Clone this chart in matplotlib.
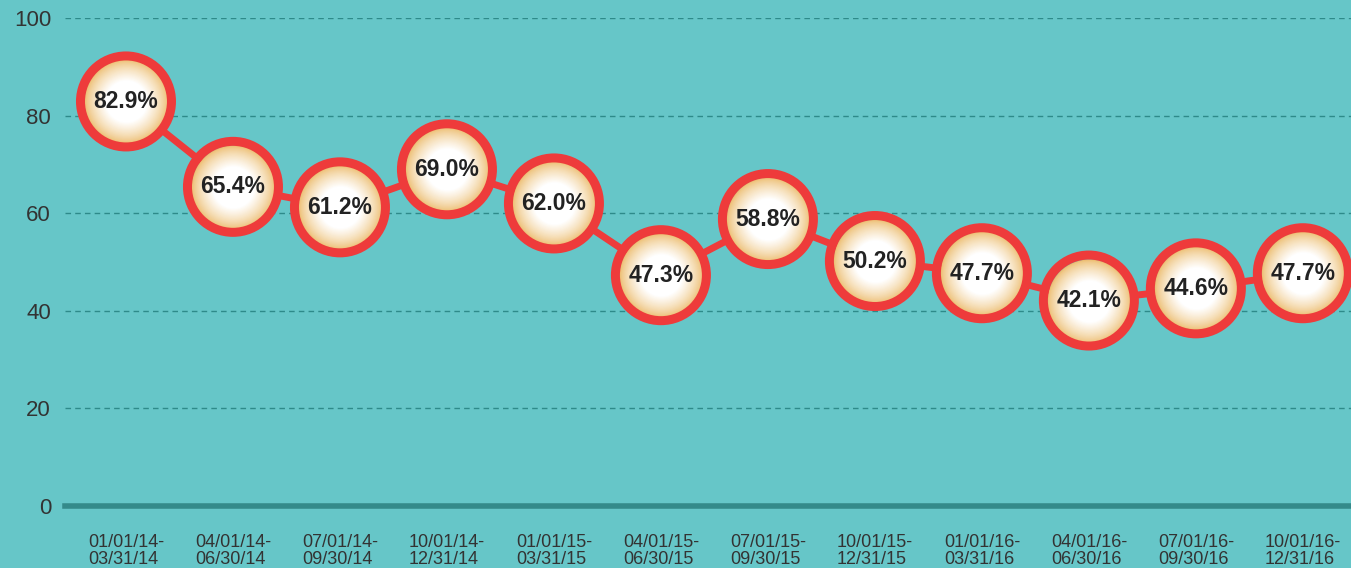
import numpy as np
import matplotlib.pyplot as plt
from matplotlib.colors import to_rgb

# quarterly values
periods = ["01/01/14-\n03/31/14", "04/01/14-\n06/30/14", "07/01/14-\n09/30/14",
           "10/01/14-\n12/31/14", "01/01/15-\n03/31/15", "04/01/15-\n06/30/15",
           "07/01/15-\n09/30/15", "10/01/15-\n12/31/15", "01/01/16-\n03/31/16",
           "04/01/16-\n06/30/16", "07/01/16-\n09/30/16", "10/01/16-\n12/31/16"]
values = [82.9, 65.4, 61.2, 69.0, 62.0, 47.3, 58.8, 50.2, 47.7, 42.1, 44.6, 47.7]
yticks = [0, 20, 40, 60, 80, 100]

bg = "#66C6C8"
red = "#EE3B3B"
grid_col = "#2E8A8A"
txt = "#333333"

plt.rcParams['font.family'] = ['Liberation Sans', 'DejaVu Sans']

fig = plt.figure(figsize=(13.51, 5.68), dpi=100, facecolor=bg)
ax = fig.add_axes([65/1351, 62/568, 1 - 65/1351, 488/568])
ax.set_facecolor(bg)

x = np.arange(len(values))
ax.set_xlim(-0.57, 11.45)
ax.set_ylim(0, 100)

# grid + baseline
for yv in yticks[1:]:
    ax.axhline(yv, color=grid_col, lw=1, ls=(0, (4, 3)), zorder=1)
ax.axhline(0, color="#348A8A", lw=4, zorder=2, clip_on=False)

# connecting line
ax.plot(x, values, color=red, lw=5, zorder=3, solid_capstyle='round')

# radial gradient disc, built from concentric dots
px = 0.72  # points per pixel at dpi 100
inner_d = 84
edge_c = np.array(to_rgb("#EDBE72"))
white = np.array([1, 1, 1])
n = 40
for k in range(n):
    t = k / n
    d = inner_d * (1 - t)
    mix = min(1.0, (t / 0.5)) ** 0.75
    c = edge_c * (1 - mix) + white * mix
    ax.scatter(x, values, s=(d * px) ** 2, color=c, linewidths=0, zorder=4 + k * 0.001)

# red ring
ax.scatter(x, values, s=(91 * px) ** 2, facecolors='none', edgecolors=red,
           linewidths=9 * px, zorder=5)

for xi, v in zip(x, values):
    ax.text(xi, v, f"{v:.1f}%", ha='center', va='center', fontsize=16.5,
            fontweight='bold', color="#222222", zorder=6)

ax.set_yticks(yticks)
ax.set_yticklabels([str(t) for t in yticks], fontsize=16, color=txt)
ax.set_xticks(x)
ax.set_xticklabels(periods, fontsize=13, color=txt, linespacing=1.05,
                   multialignment='left')
ax.tick_params(axis='y', length=0, pad=10)
ax.tick_params(axis='x', length=0, pad=20)
for s in ax.spines.values():
    s.set_visible(False)

fig.savefig("out.png", dpi=100, facecolor=bg)
